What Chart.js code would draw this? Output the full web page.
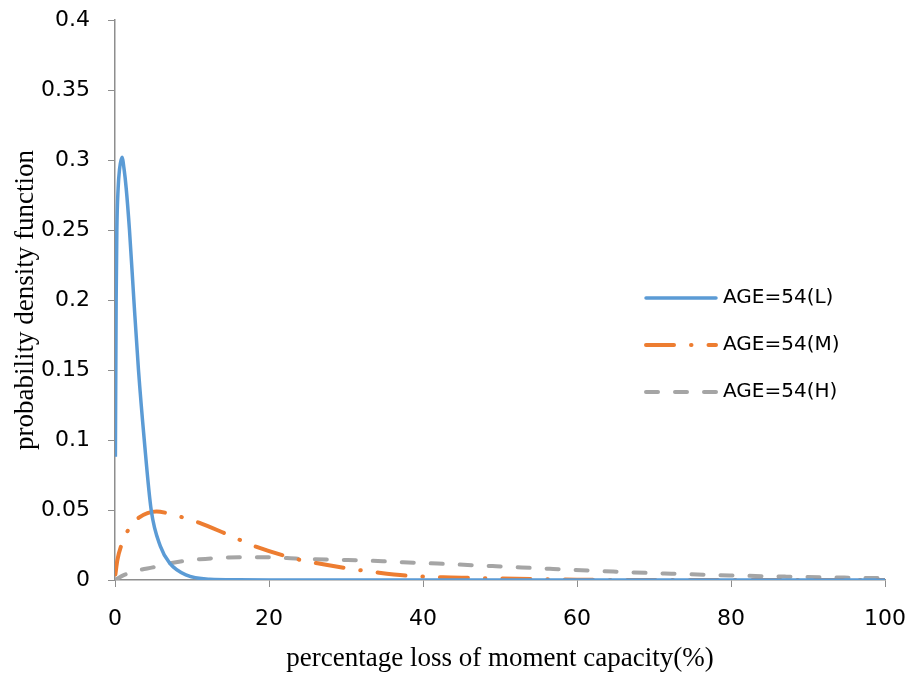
<!DOCTYPE html>
<html>
<head>
<meta charset="utf-8">
<script src="https://cdn.jsdelivr.net/npm/chart.js@4/dist/chart.umd.min.js"></script>
<style>
  html, body { margin: 0; padding: 0; background: #fff; }
  #wrap { width: 910px; height: 675px; }
</style>
</head>
<body>
<div id="wrap"><canvas id="pdfChart" width="910" height="675"></canvas></div>
<script>
// series labels
const seriesNames = ["AGE=54(L)", "AGE=54(M)", "AGE=54(H)"];

// AGE=54(L)
const xL = [0.05, 0.15, 0.24, 0.41, 0.58, 0.9, 1.19, 1.45, 1.88, 2.45, 3.05, 3.8, 4.7, 5.9, 7.1, 9.2, 12.3, 16, 20, 100];
const yL = [0.088, 0.2, 0.25, 0.28, 0.293, 0.302, 0.293, 0.28, 0.25, 0.2, 0.15, 0.1, 0.05, 0.024, 0.012, 0.0036, 0.0005, 0.0001, 0, 0];

// AGE=54(M)
const xM = [0.05, 0.3, 0.9, 1.75, 3.1, 5.4, 6.9, 8.9, 10.9, 14.4, 16.5, 18.3, 23.7, 26.3, 30.2, 34.3, 38.2, 42.6, 46.3, 54.5, 60, 70, 100];
const yM = [0.004, 0.014, 0.026, 0.036, 0.0445, 0.049, 0.0476, 0.0445, 0.041, 0.033, 0.028, 0.0238, 0.0148, 0.0119, 0.0083, 0.0052, 0.003, 0.0019, 0.0015, 0.0006, 0.0002, 0, 0];

// AGE=54(H)
const xH = [0, 1.2, 3.2, 4.9, 7.1, 11, 16.6, 19.6, 24, 30, 34.8, 37.4, 41.9, 49.5, 56.9, 64.7, 72.3, 79.8, 87.2, 94.7, 100];
const yH = [0, 0.0036, 0.0071, 0.009, 0.0119, 0.0148, 0.0162, 0.0162, 0.0152, 0.0143, 0.0134, 0.0127, 0.0117, 0.0098, 0.0079, 0.006, 0.0045, 0.0033, 0.0024, 0.0017, 0.0013];

// tick labels
const xTickLabels = ["0", "20", "40", "60", "80", "100"];
const yTickLabels = ["0", "0.05", "0.1", "0.15", "0.2", "0.25", "0.3", "0.35", "0.4"];

const toPoints = (xs, ys) => xs.map((x, i) => ({ x: x, y: ys[i] }));

const axisColor = "#8e8e8e";
const tickFont = { family: "'DejaVu Sans', sans-serif", size: 22 };
const titleFont = { family: "'Liberation Serif', 'Times New Roman', serif", size: 27 };

// legend drawn inside the plot, on the right
const insideLegend = {
    id: "insideLegend",
    afterDraw(chart) {
        const c = chart.ctx;
        const x0 = 646, x1 = 716, tx = 723;
        const rows = [298, 345, 392];
        chart.data.datasets.forEach((ds, i) => {
            const y = rows[i];
            c.save();
            c.strokeStyle = ds.borderColor;
            c.lineWidth = ds.borderWidth;
            c.lineCap = "round";
            c.setLineDash(ds.borderDash || []);
            c.beginPath();
            c.moveTo(x0, y);
            c.lineTo(x1, y);
            c.stroke();
            c.setLineDash([]);
            c.fillStyle = "#000";
            c.font = "20px 'DejaVu Sans', sans-serif";
            c.textBaseline = "middle";
            c.textAlign = "left";
            c.fillText(ds.label, tx, y);
            c.restore();
        });
    },
};

const ctx = document.getElementById("pdfChart").getContext("2d");

const pdfChart = new Chart(ctx, {
    type: "line",
    data: {
        datasets: [
            {
                label: seriesNames[0],
                data: toPoints(xL, yL),
                borderColor: "#5b9bd5",
                borderWidth: 3.5,
                cubicInterpolationMode: "monotone",
                pointRadius: 0,
                fill: false,
            },
            {
                label: seriesNames[1],
                data: toPoints(xM, yM),
                borderColor: "#ed7d31",
                borderWidth: 4,
                borderDash: [28, 17, 0.5, 17],
                borderCapStyle: "round",
                cubicInterpolationMode: "monotone",
                pointRadius: 0,
                fill: false,
            },
            {
                label: seriesNames[2],
                data: toPoints(xH, yH),
                borderColor: "#a5a5a5",
                borderWidth: 4,
                borderDash: [12, 17],
                borderCapStyle: "round",
                cubicInterpolationMode: "monotone",
                pointRadius: 0,
                fill: false,
            },
        ],
    },
    options: {
        responsive: false,
        animation: false,
        layout: {
            padding: { top: 20, right: 25, left: 0, bottom: 0 },
        },
        plugins: {
            legend: { display: false },
            tooltip: { enabled: false },
        },
        scales: {
            x: {
                type: "linear",
                min: 0,
                max: 100,
                afterFit: (scale) => {
                    scale.height = 95;
                    scale.paddingLeft = 0;
                    scale.paddingRight = 0;
                },
                ticks: {
                    stepSize: 20,
                    padding: 19,
                    color: "#000",
                    font: tickFont,
                    maxRotation: 0,
                    callback: (value, index) => xTickLabels[index],
                },
                grid: {
                    drawOnChartArea: false,
                    drawTicks: true,
                    tickLength: 7,
                    color: axisColor,
                },
                border: { color: axisColor, width: 1.5 },
                title: {
                    display: true,
                    text: "percentage loss of moment capacity(%)",
                    color: "#000",
                    font: titleFont,
                    padding: { top: 1, bottom: 0 },
                },
            },
            y: {
                type: "linear",
                min: 0,
                max: 0.4,
                afterFit: (scale) => {
                    scale.width = 115;
                    scale.paddingTop = 0;
                    scale.paddingBottom = 0;
                },
                ticks: {
                    stepSize: 0.05,
                    padding: 18,
                    color: "#000",
                    font: tickFont,
                    callback: (value, index) => yTickLabels[index],
                },
                grid: {
                    drawOnChartArea: false,
                    drawTicks: true,
                    tickLength: 7,
                    color: axisColor,
                },
                border: { color: axisColor, width: 1.5 },
                title: {
                    display: true,
                    text: "probability density function",
                    color: "#000",
                    font: titleFont,
                    padding: { top: 10, bottom: 0 },
                },
            },
        },
    },
    plugins: [insideLegend],
});
</script>
</body>
</html>
